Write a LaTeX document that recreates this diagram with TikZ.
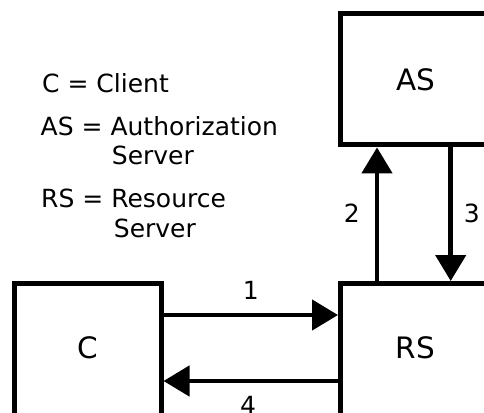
\documentclass[tikz,border=0pt]{standalone}
\usepackage{fontspec}
\setmainfont{DejaVu Sans}
\usetikzlibrary{arrows.meta}

\tikzset{
  box/.style={draw, line width=5pt, minimum width=147pt, minimum height=131pt,
              inner sep=0pt, font=\fontsize{29.5}{34}\selectfont},
  legend/.style={anchor=base west, inner sep=0pt, font=\fontsize{25}{30}\selectfont},
  steplabel/.style={inner sep=0pt, font=\fontsize{25}{30}\selectfont},
  flow/.style={line width=4.6pt, -{Triangle[length=26pt, width=30pt]}}
}

\begin{document}
\begin{tikzpicture}[x=1pt, y=-1pt]
  \useasboundingbox (0,0) rectangle (484,412);
  \clip (0,0) rectangle (484,412);

  % the three parties (their far sides run past the frame);
  % the extra text depth lifts the lower labels a little
  \node[box, minimum width=150pt] (as) at (415.5,79.4) {AS};
  \node[box, minimum height=135pt, text depth=6pt] (c) at (87.5,351) {C};
  \node[box, minimum width=150pt, minimum height=135pt, text depth=6pt] (rs) at (415.5,351) {RS};

  % legend
  \node[legend] (l1) at (42,92.7)    {C = Client};
  \node[legend] (l2) at (40.5,135)   {AS = Authorization};
  \node[legend] (l3) at (111.7,164)  {Server};
  \node[legend] (l4) at (41,207.3)   {RS = Resource};
  \node[legend] (l5) at (113.7,237.3) {Server};

  % lanes of the message arrows
  \coordinate (y1) at (0,315);
  \coordinate (y4) at (0,381);
  \coordinate (x2) at (377,0);
  \coordinate (x3) at (450.7,0);

  \draw[flow] (c.east |- y1) -- (rs.west |- y1);
  \draw[flow] (rs.north -| x2) -- (as.south -| x2);
  \draw[flow] (as.south -| x3) -- (rs.north -| x3);
  \draw[flow] (rs.west |- y4) -- (c.east |- y4);

  % step numbers
  \node[steplabel] (n1) at (250.7,290) {1};
  \node[steplabel] (n2) at (351.7,213) {2};
  \node[steplabel] (n3) at (471.7,213) {3};
  \node[steplabel] (n4) at (248,405)   {4};
\end{tikzpicture}
\end{document}
